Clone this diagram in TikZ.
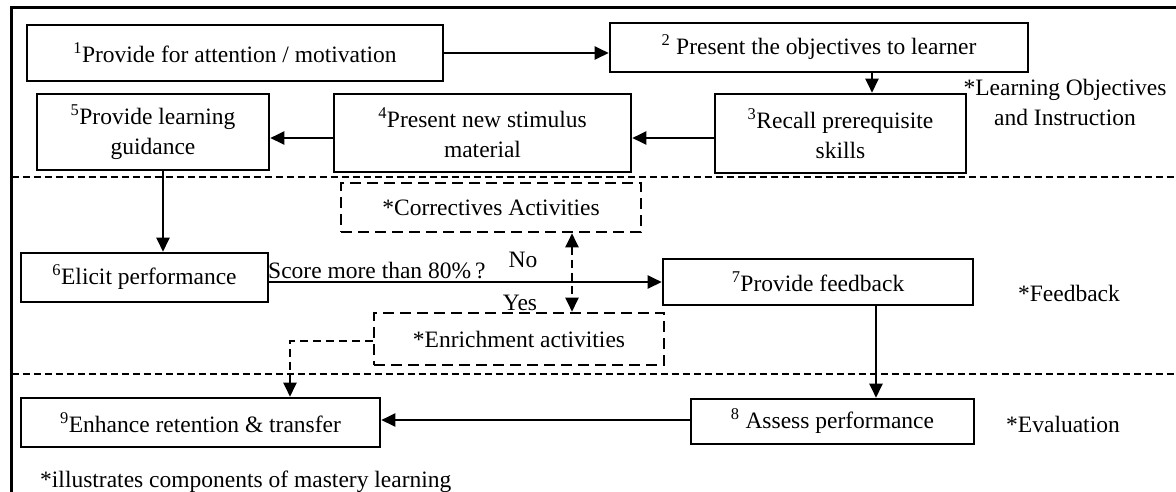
\documentclass[tikz,border=0pt]{standalone}
\usepackage{fontspec}
\setmainfont{Liberation Serif}
\usetikzlibrary{arrows.meta}
\begin{document}
\begin{tikzpicture}[x=1pt,y=-1pt,
  every node/.style={font=\fontsize{23.5}{30}\selectfont, inner sep=0pt},
  stepbox/.style={draw, line width=2.6pt, align=center},
  dashbox/.style={draw, line width=2.6pt, dash pattern=on 11pt off 6pt, align=center},
  tip/.tip={Triangle[length=14pt,width=13pt]},
  conn/.style={line width=2.4pt, -tip},
  dconn/.style={line width=2.3pt, dash pattern=on 8pt off 5pt},
  sep/.style={line width=1.8pt, dash pattern=on 7pt off 4pt},
  lbl/.style={align=center}]
\useasboundingbox (0,0) rectangle (1176,491);
% frame
\draw[line width=2.2pt] (11.5,492) -- (11.5,7.5) -- (1177,7.5);
\draw[sep] (11.5,177) -- (1176,177);
\draw[sep] (11.5,374) -- (1176,374);
% boxes
\node[stepbox, minimum width=416pt, minimum height=56pt] (b1) at (235,53) {\textsuperscript{1}Provide for attention / motivation};
\node[stepbox, minimum width=418pt, minimum height=49pt] (b2) at (819,47.5) {\textsuperscript{2} Present the objectives to learner};
\node[stepbox, minimum width=251pt, minimum height=79pt] (b3) at (840.5,133.5) {\textsuperscript{3}Recall prerequisite\\skills};
\node[stepbox, minimum width=297pt, minimum height=78pt] (b4) at (482.5,133) {\textsuperscript{4}Present new stimulus\\material};
\node[stepbox, minimum width=232pt, minimum height=76pt] (b5) at (153,132) {\textsuperscript{5}Provide learning\\guidance};
\node[lbl] (l1) at (1065,102) {*Learning Objectives\\and Instruction};
\node[stepbox, minimum width=247pt, minimum height=49pt] (b6) at (144.5,277.5) {\textsuperscript{6}Elicit performance};
\node[stepbox, minimum width=310pt, minimum height=46pt] (b7) at (818,282) {\textsuperscript{7}Provide feedback};
\node (l2) at (1069,293) {*Feedback};
\node[dashbox, minimum width=300pt, minimum height=49pt] (c1) at (491,207.5) {*Correctives Activities};
\node[dashbox, minimum width=290pt, minimum height=52pt] (c2) at (519,339) {*Enrichment activities};
\node[stepbox, minimum width=359pt, minimum height=49pt] (b9) at (200.5,422.5) {\textsuperscript{9}Enhance retention \& transfer};
\node[stepbox, minimum width=283pt, minimum height=45pt] (b8) at (832.5,421.5) {\textsuperscript{8} Assess performance};
\node (l3) at (1063,424) {*Evaluation};
\node[anchor=base west] (l4) at (40,487) {*illustrates components of mastery learning};
\node[anchor=base west] (sc) at (268,278) {Score more than 80\%\,?};
\node (no) at (523,260) {No};
\node (yes) at (520,303) {Yes};
% connectors
\coordinate (r1) at (0,138);
\coordinate (r2) at (0,420);
\draw[conn] (b1.east) -- (b2.west |- b1.east);
\draw[conn] (b2.south -| 872,0) -- (b3.north -| 872,0);
\draw[conn] (b3.west |- r1) -- (b4.east |- r1);
\draw[conn] (b4.west |- r1) -- (b5.east |- r1);
\draw[conn] (b5.south -| 163,0) -- (b6.north -| 163,0);
\draw[conn] (b6.east |- b7.west) -- (b7.west);
\draw[conn] (b7.south -| 876,0) -- (b8.north -| 876,0);
\draw[conn] (b8.west |- r2) -- (b9.east |- r2);
\draw[dconn, tip-tip] (c1.south -| 572,0) -- (c2.north -| 572,0);
\coordinate (k) at (290,341);
\draw[dconn, -tip] (c2.west |- k) -- (k) -- (b9.north -| k);
\end{tikzpicture}
\end{document}
